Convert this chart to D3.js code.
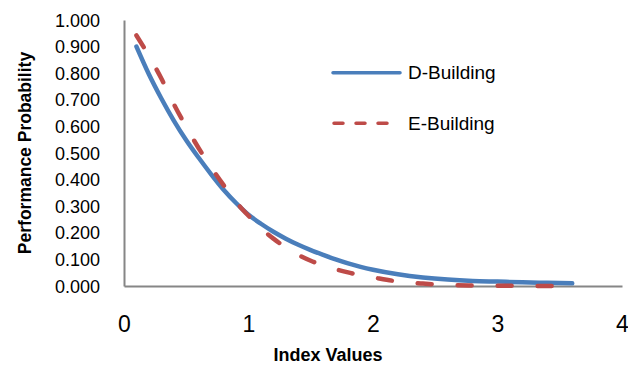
<!DOCTYPE html>
<html><head><meta charset="utf-8">
<script src="https://cdn.jsdelivr.net/npm/d3@7"></script>
<style>body{margin:0;background:#fff}svg{display:block}</style>
</head><body><svg id="c" width="628" height="366"></svg>
<script>
const dX = [0.1,0.2,0.3,0.4,0.5,0.6,0.7,0.8,0.9,1.0,1.1,1.2,1.3,1.4,1.5,1.6,1.7,1.8,1.9,2.0,2.2,2.4,2.6,2.8,3.0,3.2,3.4,3.6];
const dY = [0.900,0.796,0.705,0.622,0.548,0.482,0.420,0.362,0.312,0.268,0.234,0.204,0.178,0.155,0.135,0.117,0.100,0.085,0.072,0.061,0.044,0.032,0.024,0.019,0.0165,0.014,0.012,0.010];
const eX = [0.1,0.2,0.3,0.4,0.5,0.6,0.7,0.8,0.9,1.0,1.1,1.2,1.3,1.4,1.5,1.6,1.7,1.8,1.9,2.0,2.2,2.4,2.6,2.8,3.0,3.2,3.5];
const eY = [0.942,0.865,0.780,0.684,0.598,0.518,0.446,0.379,0.316,0.264,0.217,0.178,0.145,0.117,0.095,0.077,0.063,0.051,0.040,0.032,0.017,0.009,0.004,0.002,0.001,0.0005,0.000];
const yTicks = [0,0.1,0.2,0.3,0.4,0.5,0.6,0.7,0.8,0.9,1.0];
const xTicks = [0,1,2,3,4];
const seriesNames = ["D-Building","E-Building"];

const svg = d3.select("#c");
const x = d3.scaleLinear().domain([0,4]).range([124,622]);
const y = d3.scaleLinear().domain([0,1]).range([286,20]);
const font = "'Liberation Sans', Arial, sans-serif";

// axes
const yAxis = svg.append("g").attr("transform","translate(124,0)").call(d3.axisLeft(y).tickValues(yTicks).tickSize(0).tickPadding(24).tickFormat(d3.format(".3f")));
yAxis.select(".domain").attr("stroke","#868686").attr("stroke-width",2);
yAxis.selectAll("text").attr("font-family",font).attr("font-size",18).attr("fill","#000").attr("dy","0.34em");

const xAxis = svg.append("g").attr("transform","translate(0,286)").call(d3.axisBottom(x).tickValues(xTicks).tickSize(0).tickPadding(30).tickFormat(d3.format("d")));
xAxis.select(".domain").attr("stroke","#868686").attr("stroke-width",2);
xAxis.selectAll("text").attr("font-family",font).attr("font-size",23).attr("fill","#000");

// lines
const line = d3.line().x(d=>x(d[0])).y(d=>y(d[1])).curve(d3.curveMonotoneX);
const dData = dX.map((v,i)=>[v,dY[i]]);
const eData = eX.map((v,i)=>[v,eY[i]]);
svg.append("path").datum(dData).attr("d",line).attr("fill","none").attr("stroke","#4a7ebb").attr("stroke-width",4.5).attr("stroke-linecap","round").attr("stroke-linejoin","round");
svg.append("path").datum(eData).attr("d",line).attr("fill","none").attr("stroke","#be4b48").attr("stroke-width",4.5).attr("stroke-linecap","round").attr("stroke-dasharray","14,26");

// legend
const lg = svg.append("g");
lg.append("line").attr("x1",333).attr("x2",400).attr("y1",72.7).attr("y2",72.7).attr("stroke","#4a7ebb").attr("stroke-width",3.5).attr("stroke-linecap","round");
lg.append("text").attr("x",408).attr("y",72.7).attr("dy","0.35em").attr("font-family",font).attr("font-size",19).text(seriesNames[0]);
lg.append("line").attr("x1",334).attr("x2",390).attr("y1",123.3).attr("y2",123.3).attr("stroke","#be4b48").attr("stroke-width",3.5).attr("stroke-linecap","round").attr("stroke-dasharray","9,13");
lg.append("text").attr("x",408).attr("y",123.3).attr("dy","0.35em").attr("font-family",font).attr("font-size",19).text(seriesNames[1]);

// titles
svg.append("text").attr("x",328).attr("y",361).attr("text-anchor","middle").attr("font-family",font).attr("font-weight","bold").attr("font-size",18).text("Index Values");
svg.append("text").attr("transform","translate(31,153) rotate(-90)").attr("text-anchor","middle").attr("font-family",font).attr("font-weight","bold").attr("font-size",17.5).text("Performance Probability");
</script></body></html>
